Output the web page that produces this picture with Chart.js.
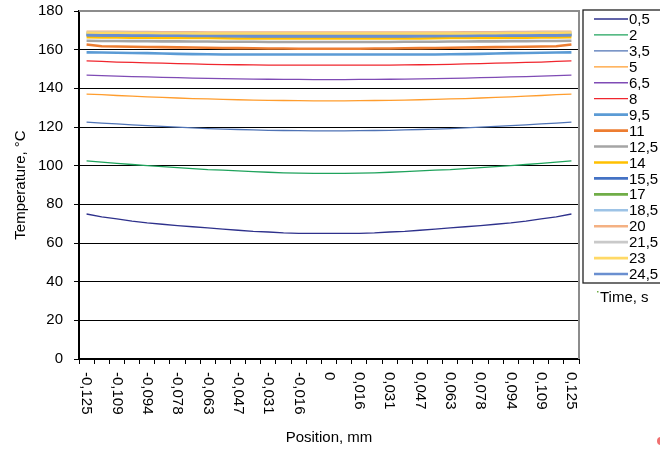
<!DOCTYPE html>
<html>
<head>
	<meta charset="UTF-8">
	<title>Temperature profile</title>
	<script src="https://cdn.jsdelivr.net/npm/chart.js@4/dist/chart.umd.min.js"></script>
	<style>
		body { margin: 0; background: #fff; }
		#wrap { width: 660px; height: 451px; }
	</style>
</head>
<body>
	<div id="wrap"><canvas id="tempChart" width="660" height="451"></canvas></div>
	<script>
	// position across the sample, mm (33 points, every 2nd one labelled)
	const positions = ["-0,125","-0,117","-0,109","-0,102","-0,094","-0,086","-0,078","-0,070","-0,063","-0,055","-0,047","-0,039","-0,031","-0,023","-0,016","-0,008","0",
		"0,008","0,016","0,023","0,031","0,039","0,047","0,055","0,063","0,070","0,078","0,086","0,094","0,102","0,109","0,117","0,125"];
	const timeLabels = ["0,5","2","3,5","5","6,5","8","9,5","11","12,5","14","15,5","17","18,5","20","21,5","23","24,5"];

	const temp0_5 = [75.0,73.5,72.5,71.3,70.4,69.7,69.0,68.4,67.8,67.2,66.6,66.0,65.7,65.2,65.0,65.0,65.0,65.0,65.0,65.2,65.7,66.0,66.6,67.2,67.8,68.4,69.0,69.7,70.4,71.3,72.5,73.5,75.0];
	const temp2 = [102.5,101.8,101.2,100.6,100.0,99.5,99.0,98.5,98.0,97.7,97.3,96.9,96.6,96.3,96.1,96.0,96.0,96.0,96.1,96.3,96.6,96.9,97.3,97.7,98.0,98.5,99.0,99.5,100.0,100.6,101.2,101.8,102.5];
	const temp3_5 = [122.5,122.0,121.6,121.1,120.7,120.3,119.9,119.5,119.2,118.9,118.7,118.5,118.3,118.2,118.1,118.0,118.0,118.0,118.1,118.2,118.3,118.5,118.7,118.9,119.2,119.5,119.9,120.3,120.7,121.1,121.6,122.0,122.5];
	const temp5 = [137.0,136.7,136.3,136.0,135.6,135.3,135.0,134.7,134.5,134.3,134.1,133.9,133.8,133.7,133.6,133.5,133.5,133.5,133.6,133.7,133.8,133.9,134.1,134.3,134.5,134.7,135.0,135.3,135.6,136.0,136.3,136.7,137.0];
	const temp6_5 = [146.8,146.6,146.3,146.1,145.9,145.7,145.5,145.3,145.1,145.0,144.9,144.8,144.7,144.6,144.6,144.5,144.5,144.5,144.6,144.6,144.7,144.8,144.9,145.0,145.1,145.3,145.5,145.7,145.9,146.1,146.3,146.6,146.8];
	const temp8 = [154.2,153.9,153.6,153.4,153.2,153.0,152.8,152.6,152.4,152.3,152.2,152.1,152.0,152.0,152.0,152.0,152.0,152.0,152.0,152.0,152.0,152.1,152.2,152.3,152.4,152.6,152.8,153.0,153.2,153.4,153.6,153.9,154.2];
	const temp9_5 = [158.6,158.5,158.4,158.3,158.2,158.0,157.8,157.7,157.6,157.5,157.5,157.5,157.5,157.5,157.5,157.5,157.5,157.5,157.5,157.5,157.5,157.5,157.5,157.5,157.6,157.7,157.8,158.0,158.2,158.3,158.4,158.5,158.6];
	const temp11 = [162.7,161.8,161.6,161.5,161.4,161.3,161.2,161.1,161.0,160.9,160.8,160.7,160.6,160.6,160.5,160.5,160.5,160.5,160.5,160.6,160.6,160.7,160.8,160.9,161.0,161.1,161.2,161.3,161.4,161.5,161.6,161.8,162.7];
	const temp12_5 = [164.6,164.5,164.5,164.4,164.4,164.3,164.3,164.2,164.2,164.1,164.1,164.1,164.0,164.0,164.0,164.0,164.0,164.0,164.0,164.0,164.0,164.1,164.1,164.1,164.2,164.2,164.3,164.3,164.4,164.4,164.5,164.5,164.6];
	const temp14 = [166.4,166.3,166.3,166.2,166.2,166.1,166.1,166.0,166.0,165.9,165.8,165.8,165.8,165.8,165.8,165.8,165.8,165.8,165.8,165.8,165.8,165.8,165.8,165.9,166.0,166.0,166.1,166.1,166.2,166.2,166.3,166.3,166.4];
	const temp15_5 = [167.6,167.5,167.5,167.4,167.4,167.3,167.3,167.2,167.2,167.1,167.1,167.0,167.0,167.0,167.0,167.0,167.0,167.0,167.0,167.0,167.0,167.0,167.1,167.1,167.2,167.2,167.3,167.3,167.4,167.4,167.5,167.5,167.6];
	const temp17 = [168.0,167.9,167.9,167.8,167.8,167.7,167.7,167.6,167.6,167.6,167.5,167.5,167.5,167.5,167.5,167.5,167.5,167.5,167.5,167.5,167.5,167.5,167.5,167.6,167.6,167.6,167.7,167.7,167.8,167.8,167.9,167.9,168.0];
	const temp18_5 = [168.4,168.3,168.3,168.2,168.2,168.1,168.1,168.1,168.0,168.0,168.0,168.0,168.0,168.0,168.0,168.0,168.0,168.0,168.0,168.0,168.0,168.0,168.0,168.0,168.0,168.1,168.1,168.1,168.2,168.2,168.3,168.3,168.4];
	const temp20 = [169.3,169.2,169.2,169.1,169.1,169.0,169.0,169.0,168.9,168.9,168.9,168.9,168.9,168.9,168.9,168.9,168.9,168.9,168.9,168.9,168.9,168.9,168.9,168.9,168.9,169.0,169.0,169.0,169.1,169.1,169.2,169.2,169.3];
	const temp21_5 = [168.9,168.8,168.8,168.7,168.7,168.6,168.6,168.6,168.5,168.5,168.5,168.5,168.5,168.5,168.5,168.5,168.5,168.5,168.5,168.5,168.5,168.5,168.5,168.5,168.5,168.6,168.6,168.6,168.7,168.7,168.8,168.8,168.9];
	const temp23 = [168.7,168.6,168.6,168.5,168.5,168.4,168.4,168.4,168.3,168.3,168.3,168.3,168.3,168.3,168.3,168.3,168.3,168.3,168.3,168.3,168.3,168.3,168.3,168.3,168.3,168.4,168.4,168.4,168.5,168.5,168.6,168.6,168.7];
	const temp24_5 = [167.5,167.4,167.4,167.3,167.3,167.2,167.2,167.1,167.1,167.1,167.0,167.0,167.0,167.0,167.0,167.0,167.0,167.0,167.0,167.0,167.0,167.0,167.0,167.1,167.1,167.1,167.2,167.2,167.3,167.3,167.4,167.4,167.5];

	const tempSeries = [temp0_5,temp2,temp3_5,temp5,temp6_5,temp8,temp9_5,temp11,temp12_5,temp14,temp15_5,temp17,temp18_5,temp20,temp21_5,temp23,temp24_5];
	const lineColors = ["#2e318c","#1fa35c","#4f73b5","#ff9d2e","#7f4bb5","#f0262e","#5b9bd5","#ed7d31","#a5a5a5","#ffc000","#4472c4","#70ad47","#9dc3e6","#f4b183","#c9c9c9","#ffd966","#6a8fd0"];

	const FONT = "'Liberation Sans', Arial, sans-serif";

	let datasets = [];
	for(let i = 0; i < tempSeries.length; i++){
		datasets.push({
			label: timeLabels[i],
			data: tempSeries[i],
			borderColor: lineColors[i],
			backgroundColor: lineColors[i],
			borderWidth: i < 6 ? 1.3 : 2.6,
			pointRadius: 0,
			tension: 0,
			fill: false,
			order: tempSeries.length - i  // later series on top, like the original
		});
	}

	// plot frame, rotated x labels and the legend box
	const extras = {
		id: 'extras',
		beforeDatasetsDraw(chart){
			const ctx = chart.ctx, a = chart.chartArea;
			ctx.save();
			ctx.strokeStyle = '#8c8c8c';
			ctx.lineWidth = 2;
			ctx.beginPath();
			ctx.moveTo(a.left, a.top);
			ctx.lineTo(a.right, a.top);
			ctx.lineTo(a.right, a.bottom);
			ctx.stroke();
			ctx.restore();
		},
		afterDraw(chart){
			const ctx = chart.ctx;
			const xs = chart.scales.x;
			ctx.save();
			ctx.fillStyle = '#000';
			ctx.font = "15px " + FONT;
			ctx.textAlign = 'left';
			ctx.textBaseline = 'middle';
			chart.data.labels.forEach((lab, i) => {
				if(i % 2 !== 0) return;
				ctx.save();
				ctx.translate(xs.getPixelForValue(i), chart.chartArea.bottom + 13);
				ctx.rotate(Math.PI / 2);
				ctx.fillText(lab, 0, 0);
				ctx.restore();
			});

			// legend
			ctx.strokeStyle = '#222';
			ctx.lineWidth = 1.3;
			ctx.strokeRect(583, 10, 90, 273);
			ctx.font = "15px " + FONT;
			chart.data.datasets.forEach((ds, k) => {
				const y = 19 + k * 15.94;
				ctx.strokeStyle = ds.borderColor;
				ctx.lineWidth = ds.borderWidth;
				ctx.beginPath();
				ctx.moveTo(594, y);
				ctx.lineTo(628, y);
				ctx.stroke();
				ctx.fillStyle = '#000';
				ctx.fillText(ds.label, 629, y + 1);
			});
			ctx.fillText("Time, s", 600, 298);
			ctx.fillStyle = '#70ad47';
			ctx.fillRect(597, 291, 1.5, 1.5);
			ctx.fillStyle = '#f07070';
			ctx.beginPath();
			ctx.arc(661, 441, 4, 0, Math.PI * 2);
			ctx.fill();
			ctx.restore();
		}
	};

	const chart = new Chart(document.getElementById('tempChart'), {
		type: 'line',
		data: { labels: positions, datasets: datasets },
		options: {
			responsive: false,
			animation: false,
			layout: { padding: { top: 11, right: 81, left: 0, bottom: 0 } },
			plugins: { legend: { display: false }, tooltip: { enabled: false } },
			scales: {
				x: {
					offset: true,
					afterFit: function(s){ s.height = 92; s.paddingLeft = 0; s.paddingRight = 0; },
					grid: { display: true, offset: true, drawOnChartArea: false, drawTicks: true, tickLength: 5, color: '#000', lineWidth: 1 },
					border: { display: true, color: '#000', width: 2 },
					ticks: { autoSkip: false, maxRotation: 0, callback: () => '' },
					title: { display: true, text: 'Position, mm', color: '#000', font: { family: FONT, size: 15 }, padding: { top: 0, bottom: 4 } }
				},
				y: {
					min: 0,
					max: 180,
					afterFit: function(s){ s.width = 79; s.paddingTop = 0; s.paddingBottom = 0; },
					grid: {
						color: (c) => c.tick && c.tick.value === 180 ? '#8c8c8c' : '#000',
						tickColor: '#000',
						lineWidth: 1,
						tickLength: 5
					},
					border: { display: true, color: '#000', width: 2 },
					ticks: { stepSize: 20, color: '#000', padding: 11, font: { family: FONT, size: 15 } },
					title: { display: true, text: 'Temperature, °C', color: '#000', font: { family: FONT, size: 15 }, padding: { top: 12, bottom: 0 } }
				}
			}
		},
		plugins: [extras]
	});
	</script>
</body>
</html>
